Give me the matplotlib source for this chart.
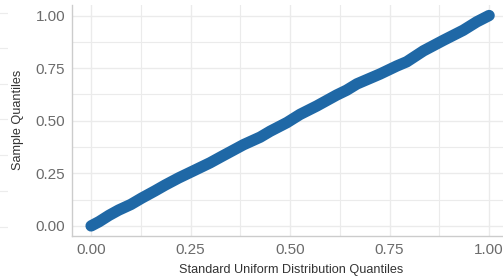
import matplotlib
matplotlib.use("Agg")
import matplotlib.pyplot as plt
import numpy as np

plt.rcParams["font.family"] = ["Liberation Sans", "DejaVu Sans"]

# Theoretical (standard uniform) quantiles and sample quantiles
theoretical = [0.000, 0.020, 0.045, 0.069, 0.100, 0.127, 0.160, 0.186, 0.220, 0.253,
               0.299, 0.328, 0.383, 0.425, 0.450, 0.492, 0.525, 0.567, 0.617, 0.642,
               0.668, 0.726, 0.768, 0.793, 0.835, 0.885, 0.935, 0.969, 1.000]
sample = [0.000, 0.020, 0.050, 0.075, 0.102, 0.132, 0.166, 0.194, 0.228, 0.258,
          0.300, 0.330, 0.386, 0.422, 0.450, 0.491, 0.530, 0.570, 0.622, 0.645,
          0.675, 0.722, 0.760, 0.780, 0.832, 0.882, 0.930, 0.970, 1.000]

major_ticks = [0.0, 0.25, 0.5, 0.75, 1.0]
minor_ticks = [0.125, 0.375, 0.625, 0.875]
tick_labels = ["0.00", "0.25", "0.50", "0.75", "1.00"]

W, H = 503, 280
fig = plt.figure(figsize=(W / 100, H / 100), dpi=100)
fig.patch.set_facecolor("white")

# faint remnant grid of a neighbouring panel on the far left
ax0 = fig.add_axes([0, 0, 8 / W, 1])
ax0.set_xlim(0, 1)
ax0.set_ylim(H, 0)
ax0.set_yticks([13, 48, 84, 119, 155, 191, 227])
ax0.set_xticks([])
ax0.tick_params(left=False, labelleft=False)
ax0.grid(True, axis="y", color="#ececec", lw=0.8)
for s in ax0.spines.values():
    s.set_visible(False)

left, right, top, bottom = 72, 509, 5, 236
ax = fig.add_axes([left / W, 1 - bottom / H, (right - left) / W, (bottom - top) / H])
ax.set_xlim(-0.048, 1.05)
ax.set_ylim(-0.048, 1.05)

ax.set_xticks(major_ticks)
ax.set_xticklabels(tick_labels)
ax.set_yticks(major_ticks)
ax.set_yticklabels(tick_labels)
ax.set_xticks(minor_ticks, minor=True)
ax.set_yticks(minor_ticks, minor=True)
ax.grid(True, which="major", color="#ebebeb", lw=1.0)
ax.grid(True, which="minor", color="#ebebeb", lw=0.8)
ax.set_axisbelow(True)

ax.tick_params(which="both", length=0, pad=5, labelsize=11, labelcolor="#6b6b6b")
for s in ["top", "right"]:
    ax.spines[s].set_visible(False)
for s in ["left", "bottom"]:
    ax.spines[s].set_color("#cccccc")
    ax.spines[s].set_linewidth(1.0)

ax.plot(theoretical, sample, color="#1f68a6", lw=8.2,
        solid_capstyle="round", solid_joinstyle="round", zorder=3)

fig.text(291.5 / W, 1 - 270 / H, "Standard Uniform Distribution Quantiles",
         ha="center", va="center", fontsize=9.1, color="#333333")
fig.text(18 / W, 1 - 120 / H, "Sample Quantiles", rotation=90,
         ha="center", va="center", fontsize=9.1, color="#333333")

fig.savefig("out.png", dpi=100, facecolor="white")
